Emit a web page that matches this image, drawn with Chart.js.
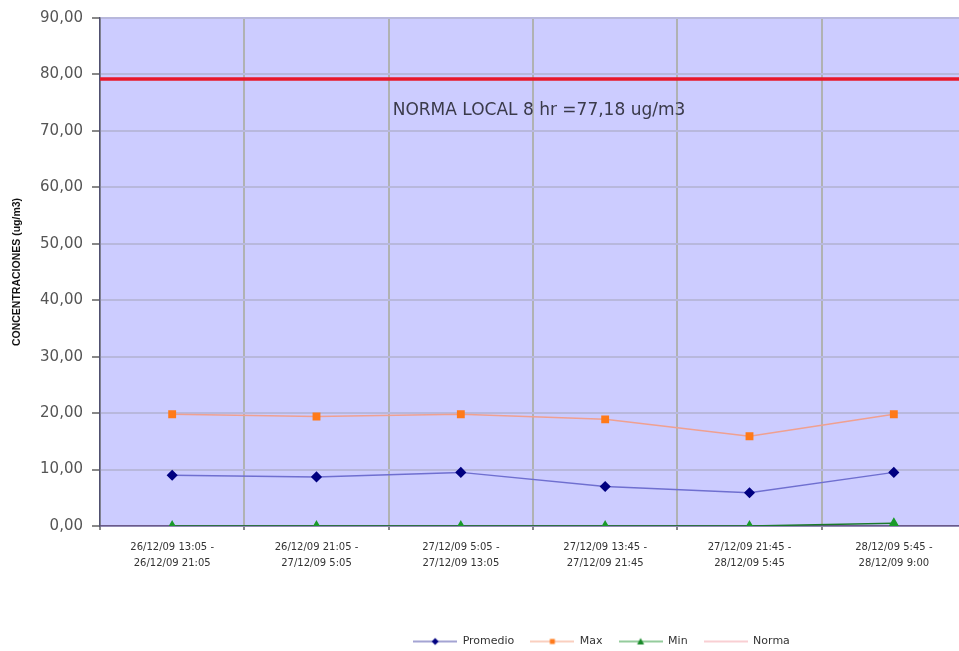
<!DOCTYPE html>
<html>
<head>
<meta charset="utf-8">
<script src="https://cdn.jsdelivr.net/npm/chart.js@4"></script>
<style>
  html, body { margin: 0; padding: 0; background: #fff; overflow: hidden; }
  #wrap { width: 959px; height: 651px; overflow: hidden; }
</style>
</head>
<body>
<div id="wrap"><canvas id="chart" width="972" height="651"></canvas></div>
<script>
const categories = [
  ["26/12/09 13:05 -", "26/12/09 21:05"],
  ["26/12/09 21:05 -", "27/12/09 5:05"],
  ["27/12/09 5:05 -", "27/12/09 13:05"],
  ["27/12/09 13:45 -", "27/12/09 21:45"],
  ["27/12/09 21:45 -", "28/12/09 5:45"],
  ["28/12/09 5:45 -", "28/12/09 9:00"]
];
const promedio = [9.0, 8.7, 9.5, 7.0, 5.9, 9.5];
const maxVals = [19.8, 19.4, 19.8, 18.9, 15.9, 19.8];
const minVals = [0, 0, 0, 0, 0, 0.5];
const normaLevel = 79.2;
const normaText = "NORMA LOCAL 8 hr =77,18 ug/m3";
const yTicks = [0, 10, 20, 30, 40, 50, 60, 70, 80, 90];

// small legend swatch: line with the marker in the middle
function swatch(lineColor, markerColor, shape, lineWidth) {
  const c = document.createElement("canvas");
  c.width = 44; c.height = 10;
  const g = c.getContext("2d");
  g.strokeStyle = lineColor;
  g.lineWidth = lineWidth || 1.2;
  g.beginPath(); g.moveTo(0, 5); g.lineTo(44, 5); g.stroke();
  g.fillStyle = markerColor;
  g.beginPath();
  if (shape === "diamond") {
    g.moveTo(22, 1.5); g.lineTo(25.5, 5); g.lineTo(22, 8.5); g.lineTo(18.5, 5);
  } else if (shape === "square") {
    g.rect(19.5, 2.5, 5, 5);
  } else if (shape === "triangle") {
    g.moveTo(22, 1.5); g.lineTo(25.5, 8); g.lineTo(18.5, 8);
  }
  g.fill();
  return c;
}

const plotBg = {
  id: "plotBg",
  afterLayout(chart) {
    // legend sits right of centre and a bit lower in the original
    const lg = chart.legend;
    lg.left += 116; lg.right += 116;
    lg.top += 10; lg.bottom += 10;
  },
  beforeDraw(chart) {
    const { ctx, chartArea: a } = chart;
    ctx.save();
    ctx.fillStyle = "#ccccff";
    ctx.fillRect(a.left, a.top, a.right - a.left, a.bottom - a.top);
    ctx.restore();
  },
  afterDatasetsDraw(chart) {
    const { ctx, chartArea: a, scales } = chart;
    ctx.save();
    ctx.font = "17px 'DejaVu Sans', Arial, sans-serif";
    ctx.fillStyle = "#3a3a4a";
    ctx.textAlign = "center";
    ctx.textBaseline = "middle";
    ctx.fillText(normaText, 539, scales.y.getPixelForValue(73.6));
    ctx.restore();
  }
};

new Chart(document.getElementById("chart"), {
  type: "line",
  data: {
    labels: categories,
    datasets: [
      {
        label: "Promedio",
        data: promedio,
        borderColor: "#6f6fd0",
        borderWidth: 1.5,
        pointStyle: "rectRot",
        pointRadius: 4.5,
        pointBackgroundColor: "#000080",
        pointBorderColor: "#000080",
        legendSwatch: swatch("#4a4aa8", "#000080", "diamond")
      },
      {
        label: "Max",
        data: maxVals,
        borderColor: "#f0a090",
        borderWidth: 1.5,
        pointStyle: "rect",
        pointRadius: 4.5,
        pointBackgroundColor: "#ff7a1a",
        pointBorderColor: "#ff7a1a",
        legendSwatch: swatch("#f5a080", "#ff7a1a", "square")
      },
      {
        label: "Min",
        data: minVals,
        borderColor: "#1a7a2a",
        borderWidth: 1.5,
        pointStyle: "triangle",
        pointRadius: 4.5,
        pointBackgroundColor: "#1a9a2a",
        pointBorderColor: "#1a9a2a",
        legendSwatch: swatch("#2a9a3a", "#1a8a2a", "triangle")
      },
      {
        label: "Norma",
        data: [{ x: 0, y: normaLevel }, { x: 1, y: normaLevel }],
        xAxisID: "xn",
        borderColor: "#e8182a",
        borderWidth: 3.5,
        pointRadius: 0,
        legendSwatch: swatch("#f3a0a8", "#f3a0a8", "none")
      }
    ]
  },
  options: {
    responsive: false,
    animation: false,
    layout: { padding: { top: 16, right: 1, left: 0, bottom: 4 } },
    plugins: {
      tooltip: { enabled: false },
      legend: {
        position: "bottom",
        labels: {
          usePointStyle: true,
          pointStyleWidth: 44,
          boxHeight: 10,
          padding: 16,
          color: "#333",
          font: { family: "'DejaVu Sans', Arial, sans-serif", size: 11 },
          generateLabels(chart) {
            return chart.data.datasets.map((ds, i) => ({
              text: ds.label,
              pointStyle: ds.legendSwatch,
              fillStyle: "transparent",
              strokeStyle: "transparent",
              lineWidth: 0,
              fontColor: "#333",
              datasetIndex: i
            }));
          }
        }
      }
    },
    scales: {
      x: {
        type: "category",
        offset: true,
        grid: {
          offset: true,
          color: "#b0b2b2",
          lineWidth: 2,
          drawTicks: true,
          tickLength: 4,
          tickColor: "#888"
        },
        border: { color: "#6a5a8a", width: 1.5 },
        ticks: {
          color: "#333",
          maxRotation: 0,
          autoSkip: false,
          padding: 9,
          font: { family: "'DejaVu Sans', Arial, sans-serif", size: 10, lineHeight: 1.6 }
        },
        afterFit(scale) { scale.height = 84; }
      },
      xn: {
        type: "linear",
        min: 0,
        max: 1,
        display: false
      },
      y: {
        min: 0,
        max: 90,
        afterBuildTicks(scale) { scale.ticks = yTicks.map(v => ({ value: v })); },
        grid: {
          color: "#b8b8dc",
          lineWidth: 2,
          drawTicks: true,
          tickLength: 8,
          tickColor: "#888"
        },
        border: { color: "#505070", width: 1.5 },
        ticks: {
          color: "#555",
          padding: 9,
          font: { family: "'DejaVu Sans', Arial, sans-serif", size: 15 },
          callback: v => v.toFixed(2).replace(".", ",")
        },
        title: {
          display: true,
          text: "CONCENTRACIONES (ug/m3)",
          color: "#111",
          padding: { top: 11, bottom: 0 },
          font: { family: "Arial, sans-serif", size: 10.5, weight: "bold" }
        },
        afterFit(scale) { scale.width = 100; }
      }
    }
  },
  plugins: [plotBg]
});
</script>
</body>
</html>
